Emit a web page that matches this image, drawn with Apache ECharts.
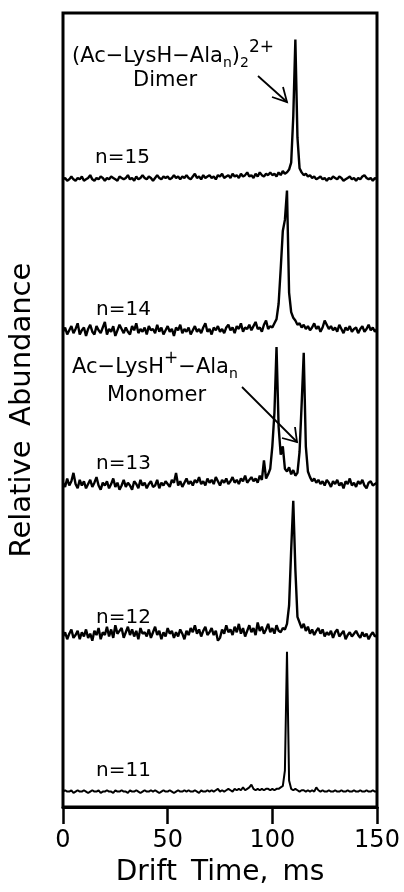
<!DOCTYPE html>
<html>
<head>
<meta charset="utf-8">
<script src="https://cdn.jsdelivr.net/npm/echarts@6/dist/echarts.min.js"></script>
<style>
html,body{margin:0;padding:0;background:#fff;}
#chart{width:404px;height:892px;}
</style>
</head>
<body>
<div id="chart"></div>
<script>
// Drift time sampling (ms), one sample per ms from 0 to 150
const driftTime = Array.from({length: 151}, (_, i) => i);

// Relative abundance of each trace (peak ~100)
const n11 = [
  0,1,0,0,1,-1,0,1,0,0,
  1,0,-1,0,1,0,0,1,-1,0,
  0,1,0,0,-1,1,0,0,1,0,
  0,-1,1,0,0,1,0,-1,0,1,
  0,0,1,0,1,0,-1,0,1,0,
  0,1,0,-1,0,1,0,0,1,0,
  1,0,0,1,0,-1,1,0,0,1,
  0,1,0,1,2,0,1,0,1,2,
  1,0,2,1,2,1,3,1,2,3,
  5,2,1,2,1,2,1,2,2,1,
  2,1,2,2,3,4,15,100,8,2,
  1,2,1,0,1,1,0,1,0,1,
  0,3,1,0,1,0,0,1,0,0,
  1,0,0,1,0,0,1,0,0,1,
  0,0,1,0,0,1,0,0,1,0,
  0
];
const n12 = [
  0,3,-2,2,5,-1,1,4,-2,3,
  0,5,-1,2,-3,4,1,6,-2,3,
  1,7,0,5,-1,8,2,4,6,-1,
  3,7,1,5,0,4,-2,6,2,3,
  0,5,-1,3,7,1,4,-2,3,0,
  6,2,4,-1,3,0,5,2,-2,4,
  1,6,3,8,2,5,0,4,7,1,
  3,6,1,4,-3,-1,5,2,8,3,
  5,1,7,3,9,2,6,0,4,8,
  3,6,1,10,4,7,2,5,9,3,
  6,2,8,4,3,6,5,9,22,62,
  97,48,14,10,6,9,4,7,2,5,
  1,4,6,2,5,0,3,1,4,-1,
  3,5,0,2,4,-2,1,3,0,2,
  4,1,-1,3,0,2,-2,1,3,0,
  1
];
const n13 = [
  2,-1,5,0,3,9,1,-2,4,0,
  3,-2,1,4,-1,2,6,0,-3,2,
  0,3,-2,1,5,-1,2,-3,0,4,
  -1,2,0,-3,3,1,-2,4,0,2,
  -2,1,3,-1,0,4,-2,2,0,3,
  1,-1,4,2,9,0,3,-1,2,5,
  1,3,0,4,2,6,1,3,0,5,
  2,4,1,6,3,0,4,2,5,1,
  3,6,2,4,1,5,3,7,2,4,
  6,3,5,2,7,4,18,5,8,12,
  28,52,99,42,22,28,12,10,13,8,
  11,7,9,24,58,95,28,10,6,3,
  5,2,4,1,3,0,4,2,-1,3,
  1,4,0,2,-2,3,1,5,0,2,
  -1,3,1,4,0,-2,2,3,0,1,
  2
];
const n14 = [
  0,3,-2,1,4,-1,2,6,-2,1,
  3,-3,2,5,0,-2,4,1,-1,3,
  7,-2,2,0,4,-3,1,5,2,-1,
  3,0,-2,4,1,6,-1,2,0,3,
  -2,4,1,2,-1,5,0,3,-2,1,
  4,0,2,-3,3,1,5,-1,2,0,
  3,-2,1,4,0,2,-1,3,6,0,
  2,-2,3,1,4,0,2,-1,3,5,
  1,3,-1,4,2,6,0,3,2,5,
  1,4,7,2,3,0,5,8,2,4,
  3,6,9,20,45,72,80,101,28,14,
  10,8,5,6,3,5,2,4,1,3,
  6,2,4,0,3,8,5,2,4,1,
  3,0,5,2,-1,3,1,4,0,2,
  3,-1,2,4,0,2,5,1,3,0,
  2
];
const n15 = [
  0,1,-1,0,2,0,-1,1,0,2,
  -1,0,1,3,0,-1,1,0,2,1,
  -1,1,0,2,1,0,-1,2,1,0,
  1,3,0,1,-1,2,0,1,3,1,
  0,2,1,-1,1,3,1,0,2,1,
  2,0,1,3,1,2,0,2,1,3,
  1,0,2,4,1,2,0,3,1,2,
  3,1,2,0,3,2,4,1,2,3,
  1,4,2,3,1,4,2,3,5,2,
  3,1,4,2,5,3,2,4,3,5,
  3,4,2,5,3,6,4,5,7,12,
  45,100,30,8,5,3,4,2,3,1,
  2,0,1,2,0,1,-1,1,0,2,
  1,0,2,1,-1,0,1,2,0,1,
  -1,1,0,2,3,1,0,1,-1,1,
  0
];

const traceNames = ['n=11', 'n=12', 'n=13', 'n=14', 'n=15'];
const traceValues = [n11, n12, n13, n14, n15];
// vertical stacking offset of each trace (same units as abundance)
const traceOffsets = [11, 122, 230, 340, 449];

const xTicks = [0, 50, 100, 150];

const FONT = '"DejaVu Sans", sans-serif';

const chart = echarts.init(document.getElementById('chart'), null, {renderer: 'canvas'});

const series = traceValues.map((vals, k) => ({
  type: 'line',
  name: traceNames[k],
  data: driftTime.map((t, i) => [t, traceOffsets[k] + vals[i]]),
  showSymbol: false,
  symbol: 'none',
  lineStyle: {color: '#000', width: k === 0 ? 2 : 2.4},
  clip: false,
  silent: true
}));

function txt(x, y, text, size, extra) {
  return Object.assign({
    type: 'text', x: x, y: y, silent: true,
    style: {text: text, fill: '#000', font: size + 'px ' + FONT, textAlign: 'left', textVerticalAlign: 'middle'}
  }, extra || {});
}

const richStyles = {
  m: {fontFamily: FONT, fontSize: 21, color: '#000', verticalAlign: 'middle'},
  sub: {fontFamily: FONT, fontSize: 14, color: '#000', padding: [12, 0, 0, 0], verticalAlign: 'middle'},
  sup: {fontFamily: FONT, fontSize: 17, color: '#000', padding: [0, 0, 18, 0], verticalAlign: 'middle'}
};

function arrow(x1, y1, x2, y2, b1, b2) {
  return [
    {type: 'line', silent: true, shape: {x1: x1, y1: y1, x2: x2, y2: y2}, style: {stroke: '#000', lineWidth: 1.8}},
    {type: 'polyline', silent: true, shape: {points: [b1, [x2, y2], b2]}, style: {stroke: '#000', lineWidth: 1.8, fill: null}}
  ];
}

const graphics = [
  {
    type: 'text', x: 72, y: 57, silent: true,
    style: {
      text: '{m|(Ac−LysH−Ala}{sub|n}{m|)}{sub|2}{sup|2+}',
      rich: richStyles, textAlign: 'left', textVerticalAlign: 'middle', fill: '#000'
    }
  },
  txt(133, 81, 'Dimer', 21),
  {
    type: 'text', x: 72, y: 368, silent: true,
    style: {
      text: '{m|Ac−LysH}{sup|+}{m|−Ala}{sub|n}',
      rich: richStyles, textAlign: 'left', textVerticalAlign: 'middle', fill: '#000'
    }
  },
  txt(107, 396, 'Monomer', 21),
  txt(95, 158, 'n=15', 20),
  txt(96, 310, 'n=14', 20),
  txt(96, 464, 'n=13', 20),
  txt(96, 618, 'n=12', 20),
  txt(96, 771, 'n=11', 20)
].concat(
  arrow(258, 76, 287, 102, [272, 97], [283, 87]),
  arrow(242, 387, 297, 442, [282, 438], [295, 427])
);

chart.setOption({
  animation: false,
  backgroundColor: '#fff',
  grid: {left: 63, right: 27, top: 13, bottom: 84, show: true, borderColor: '#000', borderWidth: 3, backgroundColor: 'transparent'},
  xAxis: {
    type: 'value', min: 0, max: 150, interval: 50,
    name: 'Drift\u2002Time,\u2002ms', nameLocation: 'middle', nameGap: 52,
    nameTextStyle: {fontFamily: FONT, fontSize: 28, color: '#000'},
    axisLine: {show: true, lineStyle: {color: '#000', width: 3}},
    axisTick: {show: true, inside: false, length: 17, lineStyle: {color: '#000', width: 2.5}},
    minorTick: {show: false},
    axisLabel: {
      fontFamily: FONT, fontSize: 24, color: '#000', margin: 22,
      formatter: v => (xTicks.indexOf(v) >= 0 ? String(v) : '')
    },
    splitLine: {show: false}
  },
  yAxis: {
    type: 'value', min: 0, max: 568,
    name: 'Relative\u2002Abundance', nameLocation: 'middle', nameGap: 26, nameRotate: 90,
    nameTextStyle: {fontFamily: FONT, fontSize: 29, color: '#000'},
    axisLine: {show: false}, axisTick: {show: false}, axisLabel: {show: false}, splitLine: {show: false}
  },
  series: series,
  graphic: graphics
});
</script>
</body>
</html>
